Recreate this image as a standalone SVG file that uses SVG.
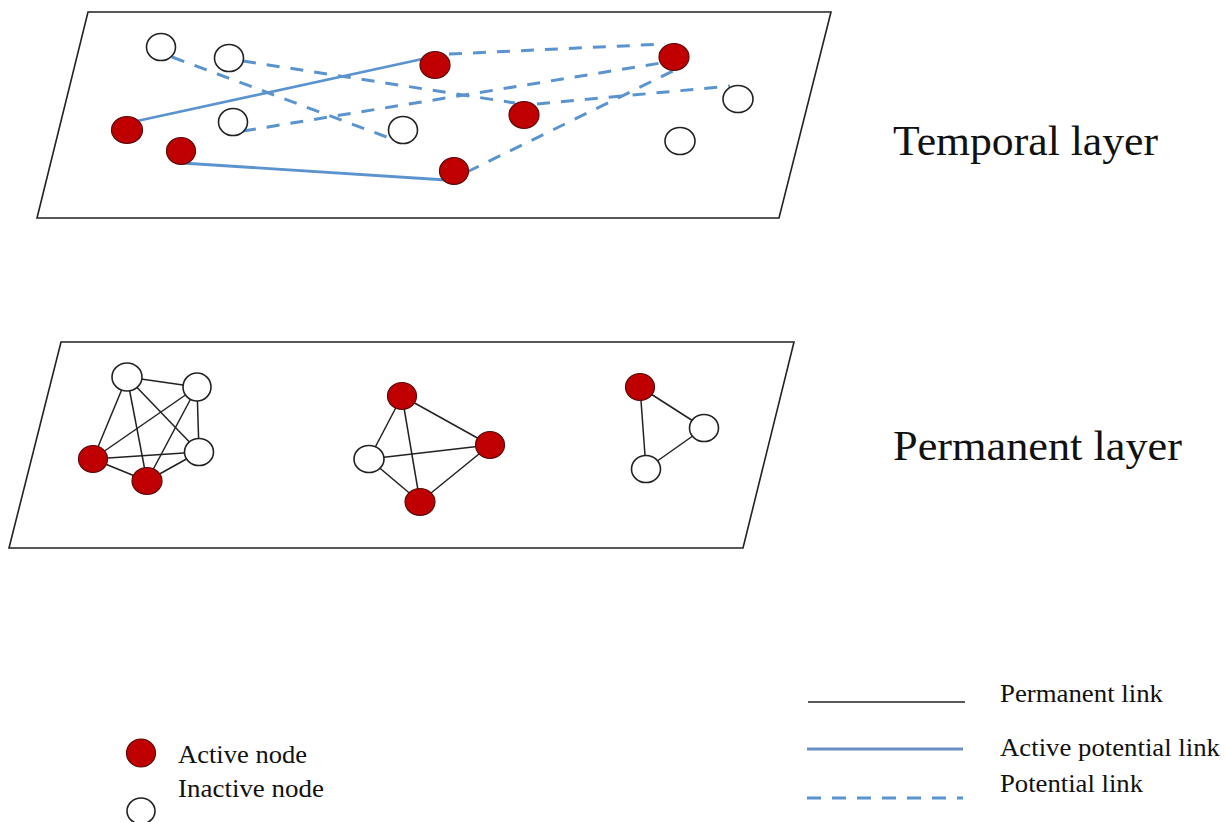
<svg xmlns="http://www.w3.org/2000/svg" width="1226" height="822" viewBox="0 0 1226 822">
<style>
.plane{fill:#fff;stroke:#222;stroke-width:1.6}
.act{fill:#c00000;stroke:#5a0a0a;stroke-width:1.2}
.ina{fill:#fff;stroke:#222;stroke-width:1.6}
.perm{stroke:#222;stroke-width:1.5;fill:none}
.apl{stroke:#5b93cf;stroke-width:2.8;fill:none}
.pl{stroke:#5b93cf;stroke-width:3;fill:none;stroke-dasharray:13 11}
.big{font-family:"Liberation Serif","Times New Roman",serif;font-size:43px;fill:#111}
.leg{font-family:"Liberation Serif","Times New Roman",serif;font-size:25px;fill:#111}
</style>
<rect width="1226" height="822" fill="#fff"/>
<g id="planes">
<polygon class="plane" points="88,12 831,12 779,218 37,218"/>
<polygon class="plane" points="61,342 794,342 743,548 9,548"/>
</g>
<g id="connectors">
<line class="apl" x1="137" y1="121" x2="427" y2="58"/>
<line class="apl" x1="182" y1="163" x2="446" y2="180"/>
<line class="pl" x1="172" y1="57" x2="392" y2="139"/>
<line class="pl" x1="243" y1="61" x2="515" y2="103"/>
<line class="pl" x1="243" y1="131" x2="667" y2="62"/>
<line class="pl" x1="449" y1="54" x2="665" y2="44"/>
<line class="pl" x1="537" y1="104" x2="730" y2="86"/>
<line class="pl" x1="467" y1="172" x2="675" y2="70"/>
<line class="perm" x1="127" y1="377" x2="197" y2="387"/>
<line class="perm" x1="127" y1="377" x2="93" y2="459"/>
<line class="perm" x1="127" y1="377" x2="147" y2="481"/>
<line class="perm" x1="127" y1="377" x2="199" y2="452"/>
<line class="perm" x1="197" y1="387" x2="93" y2="459"/>
<line class="perm" x1="197" y1="387" x2="147" y2="481"/>
<line class="perm" x1="197" y1="387" x2="199" y2="452"/>
<line class="perm" x1="93" y1="459" x2="199" y2="452"/>
<line class="perm" x1="93" y1="459" x2="147" y2="481"/>
<line class="perm" x1="147" y1="481" x2="199" y2="452"/>
<line class="perm" x1="402" y1="396" x2="490" y2="445"/>
<line class="perm" x1="402" y1="396" x2="369" y2="459"/>
<line class="perm" x1="402" y1="396" x2="420" y2="502"/>
<line class="perm" x1="369" y1="459" x2="490" y2="445"/>
<line class="perm" x1="369" y1="459" x2="420" y2="502"/>
<line class="perm" x1="420" y1="502" x2="490" y2="445"/>
<line class="perm" x1="640" y1="387" x2="704" y2="428"/>
<line class="perm" x1="640" y1="387" x2="646" y2="469"/>
<line class="perm" x1="646" y1="469" x2="704" y2="428"/>
</g>
<g id="temporal-nodes">
<ellipse id="t1" class="ina" cx="161" cy="47" rx="14.5" ry="13.5"/>
<ellipse id="t2" class="ina" cx="229" cy="58" rx="14.5" ry="13.5"/>
<ellipse id="t3" class="act" cx="435" cy="65" rx="15" ry="13.5"/>
<ellipse id="t4" class="act" cx="674" cy="57" rx="15" ry="13.5"/>
<ellipse id="t5" class="act" cx="127" cy="130" rx="15.5" ry="13.5"/>
<ellipse id="t6" class="ina" cx="233" cy="122" rx="14.5" ry="13.5"/>
<ellipse id="t7" class="ina" cx="403" cy="130" rx="14.5" ry="13.5"/>
<ellipse id="t8" class="act" cx="524" cy="115" rx="15" ry="13.5"/>
<ellipse id="t9" class="ina" cx="738" cy="99" rx="15" ry="13.5"/>
<ellipse id="t10" class="ina" cx="680" cy="141" rx="15" ry="13.5"/>
<ellipse id="t11" class="act" cx="181" cy="151" rx="14.5" ry="13.5"/>
<ellipse id="t12" class="act" cx="454" cy="171" rx="14.5" ry="13.5"/>
</g>
<g id="permanent-nodes">
<ellipse id="p1" class="ina" cx="127" cy="377" rx="15" ry="14"/>
<ellipse id="p2" class="ina" cx="197" cy="387" rx="14" ry="14"/>
<ellipse id="p3" class="ina" cx="199" cy="452" rx="14.5" ry="13.5"/>
<ellipse id="p4" class="act" cx="93" cy="459" rx="14.5" ry="13.5"/>
<ellipse id="p5" class="act" cx="147" cy="481" rx="15" ry="13.5"/>
<ellipse id="q1" class="act" cx="402" cy="396" rx="14.5" ry="13.5"/>
<ellipse id="q2" class="act" cx="490" cy="445" rx="14.5" ry="13.5"/>
<ellipse id="q3" class="ina" cx="369" cy="459" rx="15" ry="13.5"/>
<ellipse id="q4" class="act" cx="420" cy="502" rx="15" ry="13.5"/>
<ellipse id="r1" class="act" cx="640" cy="387" rx="14.5" ry="13.5"/>
<ellipse id="r2" class="ina" cx="704" cy="428" rx="14.5" ry="13.5"/>
<ellipse id="r3" class="ina" cx="646" cy="469" rx="14.5" ry="13.5"/>
</g>
<g id="labels">
<text class="big" x="893" y="155" textLength="265" lengthAdjust="spacingAndGlyphs">Temporal layer</text>
<text class="big" x="893" y="460" textLength="289" lengthAdjust="spacingAndGlyphs">Permanent layer</text>
</g>
<g id="legend">
<ellipse class="act" cx="141" cy="753" rx="14.5" ry="14"/>
<ellipse class="ina" cx="141" cy="811" rx="14" ry="13"/>
<text class="leg" x="178" y="763" textLength="129" lengthAdjust="spacingAndGlyphs">Active node</text>
<text class="leg" x="178" y="797" textLength="146" lengthAdjust="spacingAndGlyphs">Inactive node</text>
<line class="perm" x1="808" y1="702" x2="965" y2="702"/>
<line class="apl" x1="807" y1="749" x2="963" y2="749" style="stroke:#6a8fc4;stroke-width:3"/>
<line class="pl" x1="807" y1="798" x2="963" y2="798" style="stroke-dasharray:14 11"/>
<text class="leg" x="1000" y="702" textLength="163" lengthAdjust="spacingAndGlyphs">Permanent link</text>
<text class="leg" x="1000" y="756" textLength="220" lengthAdjust="spacingAndGlyphs">Active potential link</text>
<text class="leg" x="1000" y="792" textLength="143" lengthAdjust="spacingAndGlyphs">Potential link</text>
</g>
</svg>
